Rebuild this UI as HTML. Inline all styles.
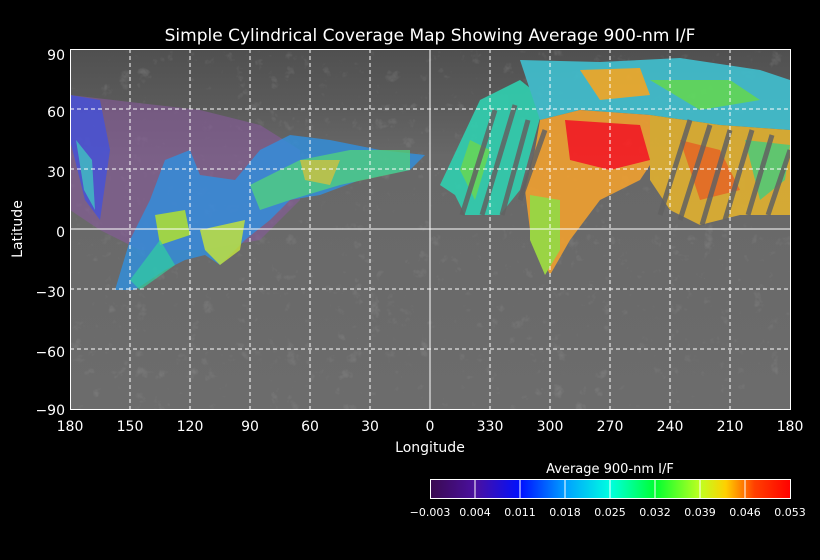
<!DOCTYPE html>
<html><head><meta charset="utf-8"><style>
body{margin:0;background:#000;width:820px;height:560px;overflow:hidden}
svg{display:block}
svg text{font-family:"DejaVu Sans","Liberation Sans",sans-serif;fill:#fff}
</style></head><body>
<svg width="820" height="560" viewBox="0 0 820 560" xmlns="http://www.w3.org/2000/svg">
<defs>
<linearGradient id="cb" x1="0" x2="1" y1="0" y2="0">
<stop offset="0" stop-color="#3a0a50"/><stop offset="0.125" stop-color="#4a10a0"/>
<stop offset="0.25" stop-color="#0010ff"/><stop offset="0.375" stop-color="#00a0ff"/>
<stop offset="0.5" stop-color="#00ffe0"/><stop offset="0.625" stop-color="#00ff30"/>
<stop offset="0.75" stop-color="#c0ff20"/><stop offset="0.82" stop-color="#ffd000"/>
<stop offset="0.9" stop-color="#ff4000"/><stop offset="1" stop-color="#ff0000"/>
</linearGradient>
<filter id="n" x="0" y="0" width="1" height="1"><feTurbulence baseFrequency="0.06" numOctaves="3" seed="3"/><feColorMatrix type="matrix" values="0 0 0 0 0.3 0 0 0 0 0.3 0 0 0 0 0.3 0.9 0.9 0.9 0 -1.1"/></filter>
<clipPath id="pc"><rect x="70" y="49" width="720" height="360"/></clipPath>
<linearGradient id="bg" x1="0" x2="0" y1="0" y2="1">
<stop offset="0" stop-color="#505050"/><stop offset="0.15" stop-color="#5a5a5a"/><stop offset="0.3" stop-color="#686868"/><stop offset="1" stop-color="#6c6c6c"/>
</linearGradient>
</defs>
<text x="430" y="41" font-size="17" text-anchor="middle">Simple Cylindrical Coverage Map Showing Average 900-nm I/F</text>
<g clip-path="url(#pc)">
<rect x="70" y="49" width="720" height="360" fill="url(#bg)"/>
<rect x="70" y="49" width="720" height="360" filter="url(#n)" opacity="0.5"/>
<!-- purple haze -->
<path d="M70,95 L130,102 L200,110 L260,125 L300,150 L300,200 L260,240 L200,250 L140,250 L100,230 L70,210 Z" fill="#8a5aa0" opacity="0.55"/>
<path d="M70,95 L100,100 L110,150 L100,220 L85,200 L75,160 L70,140 Z" fill="#4050e0" opacity="0.75"/>
<path d="M76,140 L92,160 L95,210 L84,190 Z" fill="#40c0c0" opacity="0.8"/>
<path d="M115,290 L130,240 L150,200 L165,160 L190,150 L200,175 L235,180 L260,150 L290,135 L330,140 L380,150 L425,155 L410,170 L360,180 L320,195 L290,200 L270,220 L245,240 L220,265 L205,255 L185,260 L165,270 L135,290 Z" fill="#3090e0" opacity="0.8"/>
<path d="M155,215 L185,210 L190,235 L160,245 Z" fill="#b0e030" opacity="0.85"/>
<path d="M200,230 L245,220 L240,250 L220,265 L205,250 Z" fill="#c0e040" opacity="0.85"/>
<path d="M250,185 L300,160 L350,150 L410,150 L410,170 L340,185 L290,200 L260,210 Z" fill="#50d080" opacity="0.8"/>
<path d="M300,160 L340,160 L330,185 L305,180 Z" fill="#d0c040" opacity="0.8"/>
<path d="M130,280 L160,240 L175,265 L140,290 Z" fill="#30d0a0" opacity="0.7"/>
<g opacity="0.9">
<path d="M440,185 L480,100 L520,80 L545,100 L520,190 L500,215 L465,215 L455,195 Z" fill="#30d0b0"/>
<path d="M460,170 L470,140 L490,150 L475,200 Z" fill="#60e060"/>
<path d="M520,60 L600,62 L680,58 L760,70 L790,80 L790,130 L720,125 L650,115 L580,110 L540,120 Z" fill="#40c0d0"/>
<path d="M580,70 L640,68 L650,95 L600,100 Z" fill="#f0b030"/>
<path d="M650,80 L730,80 L760,100 L700,110 Z" fill="#60e060"/>
<path d="M540,120 L580,110 L650,115 L660,150 L640,180 L600,200 L570,240 L550,275 L530,230 L525,190 L535,150 Z" fill="#f0a030"/>
<path d="M565,120 L640,125 L650,160 L610,170 L570,160 Z" fill="#ff2020"/>
<path d="M530,195 L560,200 L560,250 L545,275 L530,240 Z" fill="#a0e040"/>
<path d="M650,115 L720,125 L790,130 L790,215 L740,215 L700,225 L670,210 L650,180 Z" fill="#e0b030"/>
<path d="M680,140 L720,150 L740,190 L700,200 Z" fill="#f07020"/>
<path d="M745,140 L790,145 L785,180 L760,200 Z" fill="#60d070"/>
</g>
<!-- gaps between stripes -->
<g stroke="#626262" stroke-width="5" opacity="0.85">
<path d="M462,215 L495,110M482,215 L515,105M502,215 L528,120M520,200 L545,130"/>
<path d="M660,215 L690,120M680,220 L710,125M702,225 L730,130M725,220 L752,130M748,215 L772,135M768,215 L790,150"/>
</g>
</g>
<g stroke="#fff" stroke-width="1" stroke-dasharray="4,3" fill="none">
<path d="M130,49V409M190,49V409M250,49V409M310,49V409M370,49V409M490,49V409M550,49V409M610,49V409M670,49V409M730,49V409"/>
<path d="M70,109H790M70,169H790M70,289H790M70,349H790"/>
</g>
<g stroke="#fff" stroke-width="1" fill="none">
<path d="M430,49V409M70,229H790"/>
<rect x="70.5" y="49.5" width="720" height="360"/>
</g>
<g font-size="14" text-anchor="end">
<text x="65" y="60">90</text><text x="65" y="117">60</text><text x="65" y="177">30</text><text x="65" y="237">0</text>
<text x="65" y="297">−30</text><text x="65" y="357">−60</text><text x="65" y="415">−90</text>
</g>
<g font-size="14" text-anchor="middle">
<text x="70" y="431">180</text><text x="130" y="431">150</text><text x="190" y="431">120</text><text x="250" y="431">90</text>
<text x="310" y="431">60</text><text x="370" y="431">30</text><text x="430" y="431">0</text><text x="490" y="431">330</text>
<text x="550" y="431">300</text><text x="610" y="431">270</text><text x="670" y="431">240</text><text x="730" y="431">210</text><text x="790" y="431">180</text>
<text x="430" y="452">Longitude</text>
<text x="610" y="473" font-size="13">Average 900-nm I/F</text>
</g>
<text transform="translate(22,229) rotate(-90)" font-size="14" text-anchor="middle">Latitude</text>
<rect x="430.5" y="479.5" width="360" height="19" fill="url(#cb)" stroke="#fff"/>
<g stroke="#fff"><path d="M475,480V499M520,480V499M565,480V499M610,480V499M655,480V499M700,480V499M745,480V499"/></g>
<g font-size="11" text-anchor="middle">
<text x="430" y="516">−0.003</text><text x="475" y="516">0.004</text><text x="520" y="516">0.011</text><text x="565" y="516">0.018</text>
<text x="610" y="516">0.025</text><text x="655" y="516">0.032</text><text x="700" y="516">0.039</text><text x="745" y="516">0.046</text><text x="790" y="516">0.053</text>
</g>
</svg>
</body></html>
